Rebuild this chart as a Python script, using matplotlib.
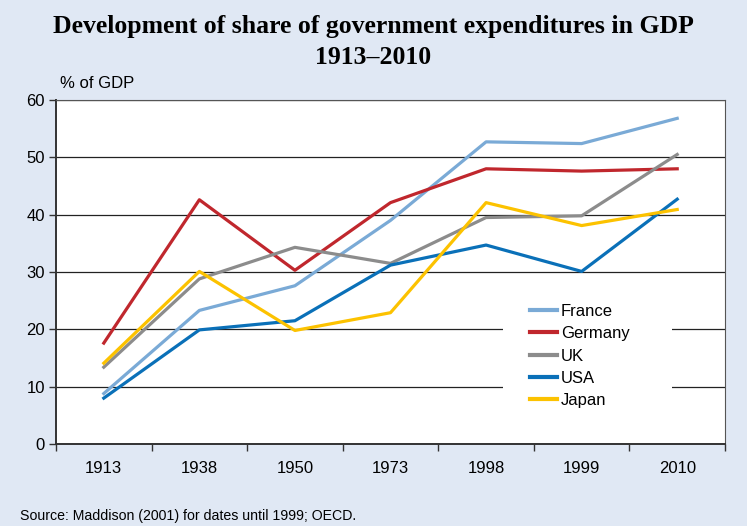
import matplotlib
matplotlib.use("Agg")
import matplotlib.pyplot as plt
from matplotlib.patches import Rectangle

years = ["1913", "1938", "1950", "1973", "1998", "1999", "2010"]
france = [8.8, 23.3, 27.6, 39.0, 52.7, 52.4, 56.8]
germany = [17.6, 42.6, 30.3, 42.1, 48.0, 47.6, 48.0]
uk = [13.4, 28.8, 34.3, 31.5, 39.5, 39.8, 50.5]
usa = [8.0, 19.9, 21.5, 31.2, 34.7, 30.1, 42.7]
japan = [14.1, 30.1, 19.8, 22.9, 42.1, 38.1, 40.9]

series = [("France", france, "#7aaad6"), ("Germany", germany, "#c0272d"),
          ("UK", uk, "#8c8c8c"), ("USA", usa, "#0a70b8"), ("Japan", japan, "#fcc200")]

BG = "#e0e8f4"
plt.rcParams["font.family"] = ["Liberation Sans", "DejaVu Sans"]

fig = plt.figure(figsize=(7.47, 5.26), dpi=100, facecolor=BG)
ax = fig.add_axes([56/747, 1-444/526, (725-56)/747, (444-100)/526])
ax.set_facecolor("white")

x = list(range(len(years)))
for name, vals, col in series:
    ax.plot(x, vals, color=col, lw=2.3, label=name, zorder=3)

ax.set_xlim(-0.5, len(years) - 0.5)
ax.set_ylim(0, 60)
ax.set_yticks(range(0, 61, 10))
ax.set_xticks(x)
ax.set_xticklabels(years)
ax.set_xticks([i - 0.5 for i in range(len(years) + 1)], minor=True)
ax.tick_params(axis="x", which="major", length=0, pad=12, labelsize=12)
ax.tick_params(axis="x", which="minor", length=5, width=1, color="#333333")
ax.tick_params(axis="y", length=5, width=1, color="#333333", labelsize=12, pad=3)
ax.yaxis.grid(True, color="#222222", lw=0.9, zorder=1)
ax.set_axisbelow(True)
for s in ["top", "right"]:
    ax.spines[s].set_color("#555555")
    ax.spines[s].set_linewidth(0.8)
for s in ["left", "bottom"]:
    ax.spines[s].set_color("#333333")
    ax.spines[s].set_linewidth(1.4)

# white block behind legend, hides the gridlines there
ax.add_patch(Rectangle((0.668, 0.099), 0.253, 0.349, transform=ax.transAxes,
                       facecolor="white", edgecolor="none", zorder=2))
leg = ax.legend(loc="upper left", bbox_to_anchor=(0.7085, 0.407), frameon=False,
                fontsize=12, handlelength=1.65, handletextpad=0.2, labelspacing=0.44,
                borderpad=0, borderaxespad=0)
leg.set_zorder(4)
for ln in leg.get_lines():
    ln.set_linewidth(3)

fig.text(0.5, 1 - 27/526, "Development of share of government expenditures in GDP",
         ha="center", va="center", fontsize=18.5, fontweight="bold", family="Liberation Serif")
fig.text(0.5, 1 - 58/526, "1913\u20132010", ha="center", va="center", fontsize=18.5,
         fontweight="bold", family="Liberation Serif")
fig.text(60/747, 1 - 83/526, "% of GDP", ha="left", va="center", fontsize=12)
fig.text(20/747, 1 - 516/526, "Source: Maddison (2001) for dates until 1999; OECD.",
         ha="left", va="center", fontsize=10.2)

fig.savefig("out.png", dpi=100, facecolor=BG)
